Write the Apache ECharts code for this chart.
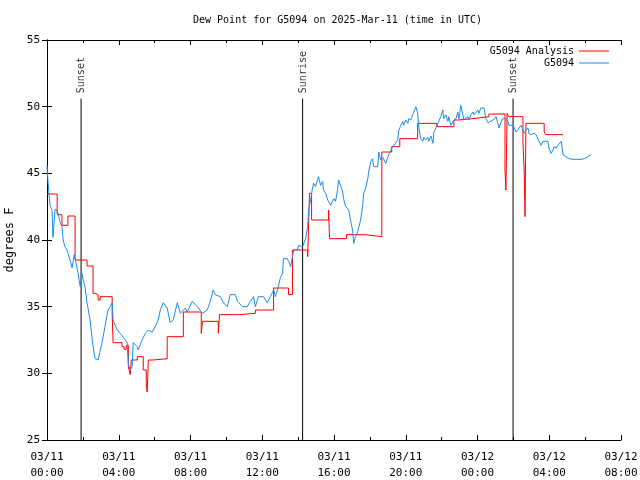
<!DOCTYPE html>
<html>
<head>
<meta charset="utf-8">
<script src="https://cdn.jsdelivr.net/npm/echarts@6/dist/echarts.min.js"></script>
<style>
html,body{margin:0;padding:0;background:#fff;}
#chart{width:640px;height:480px;}
</style>
</head>
<body>
<div id="chart"></div>
<script>
// Minutes after 2025-03-11 00:00 UTC
const blueMinutes = [0,3,10,17,20,27,34,37,44,50,54,60,67,70,77,84,91,97,104,111,117,121,127,134,144,154,161,171,184,194,204,211,218,221,235,245,255,268,272,278,285,288,302,305,318,329,339,352,362,372,379,389,402,412,422,436,446,463,469,486,503,506,520,536,546,556,563,580,590,603,613,630,637,654,670,680,691,697,707,724,737,747,758,764,771,781,788,791,804,808,815,821,825,838,841,855,858,865,872,875,882,888,892,898,905,908,915,922,925,932,939,942,949,955,959,965,972,975,982,989,992,999,1009,1016,1022,1026,1032,1039,1042,1049,1056,1059,1066,1073,1076,1083,1089,1093,1106,1110,1116,1123,1133,1143,1156,1166,1173,1177,1183,1190,1193,1200,1207,1210,1217,1223,1227,1234,1240,1244,1250,1257,1260,1267,1274,1277,1284,1291,1294,1301,1307,1317,1324,1327,1334,1341,1344,1351,1361,1368,1374,1378,1384,1391,1394,1408,1411,1418,1425,1428,1441,1445,1451,1462,1468,1475,1478,1492,1495,1502,1508,1512,1518,1525,1529,1535,1542,1545,1559,1562,1569,1575,1579,1586,1592,1596,1602,1609,1612,1619,1629,1636,1642,1646,1653,1659,1676,1679,1686,1693,1696,1703,1709,1713,1720,1726,1736,1746,1760,1787,1797,1810,1820];
const blueValues = [45.6,44.5,42.6,42.2,40.2,42.3,42.2,42.0,41.3,41.0,40.0,39.5,39.25,39.0,38.5,37.9,38.9,38.3,37.5,36.5,37.5,37.0,36.5,35.3,34.0,32.0,31.1,31.0,32.3,33.5,34.75,35.0,35.3,34.0,33.25,33.0,32.7,32.3,30.7,30.25,30.5,32.3,32.0,31.75,32.5,33.0,33.25,33.1,33.5,34.0,34.75,35.3,34.9,33.8,34.0,35.3,34.5,34.9,34.6,35.4,35.0,34.9,34.5,34.75,35.4,36.25,35.9,35.75,35.3,35.0,35.9,35.9,35.4,35.0,35.0,35.4,35.75,35.0,35.75,35.75,35.3,35.75,36.25,35.75,36.25,37.2,37.5,38.6,38.6,38.4,38.0,38.75,39.25,39.25,39.6,39.5,39.6,40.1,41.0,42.25,43.0,43.9,44.25,44.0,44.5,44.75,44.1,44.4,43.75,43.5,43.0,42.9,42.6,42.5,43.1,42.9,43.75,44.5,44.1,43.6,43.1,42.5,42.25,41.4,40.75,39.75,40.25,40.6,40.6,41.5,42.6,43.5,43.9,44.6,45.1,45.9,46.1,45.5,45.5,46.6,46.0,46.2,45.75,46.4,47.0,47.25,47.5,48.25,48.1,48.9,48.6,49.0,48.75,49.1,49.0,49.4,49.6,50.0,49.5,48.4,47.6,47.4,47.7,47.5,47.7,47.4,47.8,47.25,48.1,48.4,48.5,49.25,49.75,49.1,49.4,48.9,49.25,48.6,49.0,49.1,49.6,49.1,50.1,49.4,49.0,49.25,49.0,49.4,49.6,49.4,49.75,49.5,49.9,49.9,49.1,48.8,48.75,49.0,48.9,49.25,48.75,48.4,48.8,49.1,49.25,49.1,48.9,48.6,48.6,48.75,48.1,48.1,48.4,48.6,48.25,48.0,48.25,48.4,48.0,47.9,48.0,47.9,47.75,47.4,47.1,47.4,47.4,46.9,46.5,46.75,47.0,46.9,47.1,47.25,47.4,46.4,46.25,46.1,46.05,46.05,46.1,46.25,46.4];

const analysisMinutes = [0,34,50,70,94,134,154,161,171,178,218,221,251,258,265,272,278,282,302,322,332,335,339,355,402,456,516,520,573,577,640,697,758,808,821,872,878,885,942,945,1002,1063,1120,1153,1180,1240,1304,1361,1374,1425,1478,1532,1535,1539,1545,1592,1596,1599,1602,1663,1669,1726];
const analysisValues = [43.45,41.9,41.1,41.8,38.5,38.05,36.0,35.9,35.5,35.75,34.5,32.3,32.0,31.8,32.1,30.5,29.9,31.0,31.25,30.25,29.3,28.6,31.0,31.1,32.75,34.6,33.0,33.9,33.0,34.4,34.5,34.75,36.4,35.9,39.25,38.75,43.5,41.5,42.25,40.1,40.4,40.25,46.6,47.0,47.6,48.75,48.5,49.0,49.1,49.25,49.45,45.25,43.75,49.5,49.25,47.4,45.25,41.75,48.75,48.1,47.9,47.9];

const eventNames = ['Sunset', 'Sunrise', 'Sunset'];
const eventMinutes = [114, 855, 1559];
const eventTop = 50.6;

const toH = m => m / 60;
const blueData = blueMinutes.map((m, i) => [toH(m), blueValues[i]]);
const redData = analysisMinutes.map((m, i) => [toH(m), analysisValues[i]]);

const FONT = 'DejaVu Sans Mono';
const pad = n => (n < 10 ? '0' : '') + n;
function fmtX(h) {
  const day = 11 + Math.floor(h / 24);
  const hh = Math.round(h % 24);
  return '03/' + pad(day) + '\n' + pad(hh) + ':00';
}

const eventSeries = eventNames.map((name, i) => ({
  type: 'line',
  name: 'ev' + i,
  data: [[toH(eventMinutes[i]), 25], [toH(eventMinutes[i]), eventTop]],
  symbol: 'none',
  lineStyle: {color: '#000', width: 1},
  silent: true,
  z: 1
}));
const eventLabels = {
  type: 'scatter',
  name: 'evlabels',
  data: eventNames.map((n, i) => ({name: n, value: [toH(eventMinutes[i]), eventTop]})),
  symbolSize: 1,
  itemStyle: {color: 'rgba(0,0,0,0)'},
  label: {
    show: true,
    formatter: p => p.name,
    position: [1, -5],
    rotate: 90,
    align: 'left',
    verticalAlign: 'middle',
    color: '#000',
    fontFamily: FONT,
    fontSize: 10
  },
  labelLayout: {hideOverlap: false},
  silent: true,
  z: 5
};

const chart = echarts.init(document.getElementById('chart'), null, {renderer: 'canvas'});
chart.setOption({
  animation: false,
  backgroundColor: '#fff',
  title: {
    text: 'Dew Point for G5094 on 2025-Mar-11 (time in UTC)',
    left: 188,
    top: 10,
    textStyle: {fontFamily: FONT, fontSize: 10, fontWeight: 'normal', color: '#000'}
  },
  legend: {
    data: ['G5094 Analysis', 'G5094'],
    orient: 'vertical',
    right: 26,
    top: 41,
    align: 'right',
    itemWidth: 30,
    itemHeight: 10,
    itemGap: 2,
    icon: 'path://M0,0 L30,0 L30,1 L0,1 Z',
    textStyle: {fontFamily: FONT, fontSize: 10, color: '#000'}
  },
  grid: {left: 47, right: 19, top: 40, bottom: 40, containLabel: false, outerBoundsMode: 'none'},
  xAxis: [{
    type: 'value',
    min: 0, max: 32, interval: 4,
    axisLine: {show: true, lineStyle: {color: '#000'}},
    axisTick: {show: true, inside: true, length: 5, lineStyle: {color: '#000'}},
    minorTick: {show: true, splitNumber: 2, length: 3, lineStyle: {color: '#000'}},
    splitLine: {show: false},
    axisLabel: {formatter: fmtX, fontFamily: FONT, fontSize: 11, color: '#000', margin: 9, lineHeight: 16, showMinLabel: true, showMaxLabel: true}
  }, {
    type: 'value',
    position: 'top',
    min: 0, max: 32, interval: 4,
    axisLine: {show: true, lineStyle: {color: '#000'}},
    axisTick: {show: true, inside: true, length: 5, lineStyle: {color: '#000'}},
    minorTick: {show: true, splitNumber: 2, length: 3, lineStyle: {color: '#000'}},
    splitLine: {show: false},
    axisLabel: {show: false}
  }],
  yAxis: [{
    type: 'value',
    min: 25, max: 55, interval: 5,
    name: 'degrees F',
    nameLocation: 'middle',
    nameGap: 30,
    nameTextStyle: {fontFamily: FONT, fontSize: 12, color: '#000'},
    axisLine: {show: true, lineStyle: {color: '#000'}},
    axisTick: {show: true, inside: true, length: 5, lineStyle: {color: '#000'}},
    splitLine: {show: false},
    axisLabel: {fontFamily: FONT, fontSize: 11, color: '#000', margin: 7}
  }, {
    type: 'value',
    position: 'right',
    min: 25, max: 55, interval: 5,
    axisLine: {show: true, lineStyle: {color: '#000'}},
    axisTick: {show: true, inside: true, length: 5, lineStyle: {color: '#000'}},
    splitLine: {show: false},
    axisLabel: {show: false}
  }],
  series: [
    {
      name: 'G5094 Analysis',
      type: 'line',
      data: redData,
      step: 'end',
      symbol: 'none',
      lineStyle: {color: '#ff0000', width: 1},
      itemStyle: {color: '#ff0000'},
      z: 3
    },
    {
      name: 'G5094',
      type: 'line',
      data: blueData,
      symbol: 'none',
      lineStyle: {color: '#1a8cf0', width: 1},
      itemStyle: {color: '#1a8cf0'},
      z: 4
    },
    ...eventSeries,
    eventLabels
  ]
});
</script>
</body>
</html>
